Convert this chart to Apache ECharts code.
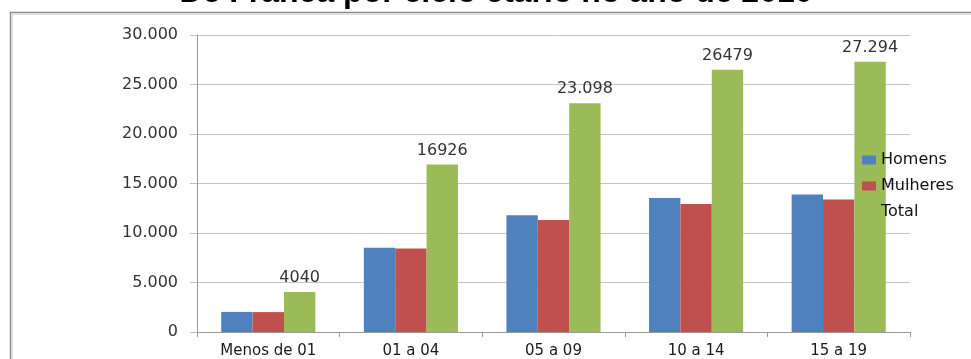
<!DOCTYPE html>
<html>
<head>
<meta charset="utf-8">
<title>População por ciclo etário</title>
<script src="https://cdn.jsdelivr.net/npm/echarts@6/dist/echarts.min.js"></script>
<style>
  html, body { margin: 0; padding: 0; background: #ffffff; }
  #chart { width: 971px; height: 359px; }
</style>
</head>
<body>
<div id="chart"></div>
<script>
// Age groups and population counts (Franca, 2010)
const categories = ['Menos de 01', '01 a 04', '05 a 09', '10 a 14', '15 a 19'];
const homens   = [2030, 8500, 11785, 13540, 13900];
const mulheres = [2010, 8426, 11313, 12939, 13394];
const total    = [4040, 16926, 23098, 26479, 27294];
// Value labels as printed above the total bars
const totalLabels = ['4040', '16926', '23.098', '26479', '27.294'];
const seriesNames = ['Homens', 'Mulheres', 'Total'];
const titleText = 'De Franca por ciclo etário no ano de 2010';

const FONT = 'DejaVu Sans';

function fmtThousands(v) {
  return String(v).replace(/\B(?=(\d{3})+(?!\d))/g, '.');
}

const chart = echarts.init(document.getElementById('chart'), null, { renderer: 'canvas' });

chart.setOption({
  animation: false,
  backgroundColor: '#ffffff',
  color: ['#4F81BD', '#C0504D', '#9BBB59'],
  graphic: [
    {
      type: 'rect',
      shape: { x: 10.5, y: 12.5, width: 1000, height: 400 },
      style: { fill: 'none', stroke: '#8a8a8a', lineWidth: 1.5 },
      z: 0
    },
    {
      type: 'rect',
      shape: { x: 12.5, y: 14.5, width: 1000, height: 400 },
      style: { fill: 'none', stroke: '#dcdcdc', lineWidth: 1 },
      z: 0
    },
    {
      type: 'text',
      x: 496,
      y: 9,
      style: {
        text: titleText,
        font: 'bold 32px "Liberation Sans", Arial, sans-serif',
        fill: '#000000',
        align: 'center',
        verticalAlign: 'bottom'
      },
      z: 10
    }
  ],
  legend: {
    orient: 'vertical',
    left: 862,
    top: 152,
    padding: 0,
    itemWidth: 14,
    itemHeight: 9,
    itemGap: 10,
    icon: 'rect',
    textStyle: { fontFamily: FONT, fontSize: 16, color: '#111111' },
    data: seriesNames
  },
  grid: {
    left: 197,
    right: 61,
    top: 35,
    bottom: 26,
    containLabel: false
  },
  xAxis: {
    type: 'category',
    data: categories,
    axisLine: { show: true, lineStyle: { color: '#9a9a9a', width: 1 } },
    axisTick: { show: true, length: 5, lineStyle: { color: '#9a9a9a' } },
    axisLabel: { fontFamily: FONT, fontSize: 15, color: '#1a1a1a', margin: 12 },
    splitLine: { show: false }
  },
  yAxis: {
    type: 'value',
    min: 0,
    max: 30000,
    interval: 5000,
    axisLine: { show: true, lineStyle: { color: '#9a9a9a', width: 1 } },
    axisTick: { show: true, length: 7, lineStyle: { color: '#bdbdbd' } },
    axisLabel: {
      fontFamily: FONT,
      fontSize: 16,
      color: '#333333',
      margin: 19,
      formatter: fmtThousands
    },
    splitLine: { show: true, lineStyle: { color: '#c4c4c4', width: 1 } }
  },
  series: [
    {
      name: seriesNames[0],
      type: 'bar',
      data: homens,
      barGap: '0%',
      barCategoryGap: '34%'
    },
    {
      name: seriesNames[1],
      type: 'bar',
      data: mulheres,
      barGap: '0%',
      barCategoryGap: '34%'
    },
    {
      name: seriesNames[2],
      type: 'bar',
      data: total,
      barGap: '0%',
      barCategoryGap: '34%',
      label: {
        show: true,
        position: 'top',
        distance: 6,
        fontFamily: FONT,
        fontSize: 16,
        color: '#333333',
        formatter: function (p) { return totalLabels[p.dataIndex]; }
      }
    }
  ]
});
</script>
</body>
</html>
